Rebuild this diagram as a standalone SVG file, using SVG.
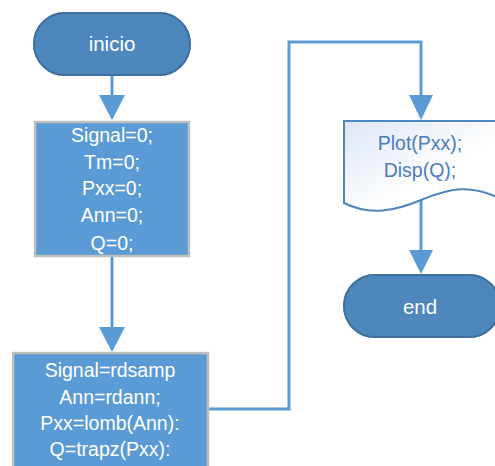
<svg xmlns="http://www.w3.org/2000/svg" width="495" height="466" viewBox="0 0 495 466">
<style>
.term{fill:#4e87bc;stroke:#41719c;stroke-width:2}
.proc{fill:#5b9bd5;stroke:#bfbfbf;stroke-width:2.5}
.wt{font-family:"Liberation Sans",Arial,sans-serif;font-size:19.5px;fill:#ffffff;text-anchor:middle}
.tt{font-family:"Liberation Sans",Arial,sans-serif;font-size:20.5px;fill:#ffffff;text-anchor:middle}
.bt{font-family:"Liberation Sans",Arial,sans-serif;font-size:19.5px;fill:#4a7ebb;text-anchor:middle}
.con{fill:none;stroke:#5b9bd5;stroke-width:3}
.ah{fill:#5b9bd5}
</style>
<defs>
<linearGradient id="dg" x1="0" y1="0" x2="1" y2="1">
<stop offset="0" stop-color="#dce6f4"/>
<stop offset="0.6" stop-color="#ffffff"/>
</linearGradient>
<filter id="sh" x="-20%" y="-20%" width="140%" height="150%">
<feGaussianBlur in="SourceAlpha" stdDeviation="3"/>
<feOffset dy="3"/>
<feComponentTransfer><feFuncA type="linear" slope="0.18"/></feComponentTransfer>
<feFlood flood-color="#5b9bd5"/>
<feComposite operator="in" in2="SourceAlpha"/>
<feMerge><feMergeNode/><feMergeNode in="SourceGraphic"/></feMerge>
</filter>
</defs>
<g id="connectors">
<line class="con" x1="112" y1="75" x2="112" y2="97"/>
<polygon class="ah" points="99,95 125,95 112,120"/>
<line class="con" x1="112" y1="256" x2="112" y2="329"/>
<polygon class="ah" points="99,327 125,327 112,352"/>
<polyline class="con" points="208,409 289,409 289,42 421,42 421,97"/>
<polygon class="ah" points="409,95 433,95 421,120"/>
<line class="con" x1="421" y1="200" x2="421" y2="252"/>
<polygon class="ah" points="409,250 433,250 421,274"/>
</g>
<g id="inicio">
<rect class="term" x="34" y="13" width="156" height="62" rx="31" ry="31" filter="url(#sh)"/>
<text class="tt" x="112" y="51">inicio</text>
</g>
<g id="init">
<rect class="proc" x="35" y="122" width="154" height="134"/>
<text class="wt" x="112" y="142">Signal=0;</text>
<text class="wt" x="112" y="169">Tm=0;</text>
<text class="wt" x="112" y="195">Pxx=0;</text>
<text class="wt" x="112" y="222">Ann=0;</text>
<text class="wt" x="112" y="250">Q=0;</text>
</g>
<g id="read">
<rect class="proc" x="13" y="353" width="195" height="120"/>
<text class="wt" x="110" y="377">Signal=rdsamp</text>
<text class="wt" x="110" y="404">Ann=rdann;</text>
<text class="wt" x="110" y="430">Pxx=lomb(Ann):</text>
<text class="wt" x="110" y="456">Q=trapz(Pxx):</text>
</g>
<g id="output">
<path d="M344,121 L499,121 L499,198 C470,184 450,188 421,200 C395,211 370,216 344,203 Z" fill="url(#dg)" stroke="#4e86bf" stroke-width="2"/>
<text class="bt" x="420" y="150">Plot(Pxx);</text>
<text class="bt" x="420" y="177">Disp(Q);</text>
</g>
<g id="end">
<rect class="term" x="344" y="275" width="156" height="62" rx="31" ry="31" filter="url(#sh)"/>
<text class="tt" x="420" y="314">end</text>
</g>
</svg>
